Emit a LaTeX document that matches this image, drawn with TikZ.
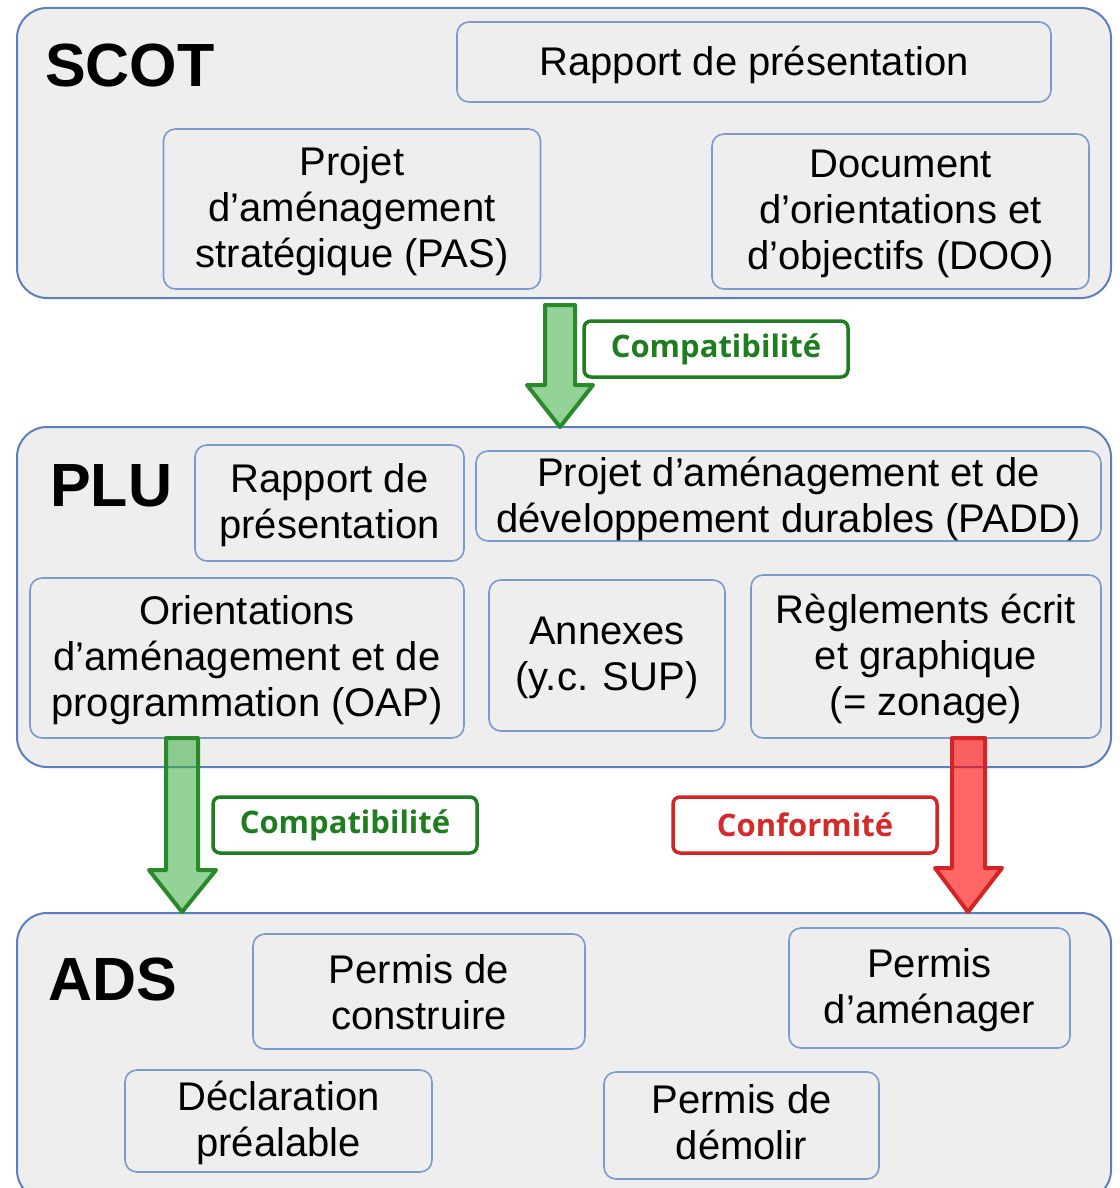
\documentclass[tikz,border=0pt]{standalone}
\usepackage{fontspec}
\setmainfont{Liberation Sans}
\newfontfamily\labfont{Open Sans}
\definecolor{boxfill}{HTML}{EEEEEE}
\definecolor{outerline}{HTML}{5B7FBF}
\definecolor{innerline}{HTML}{7B9BD0}
\definecolor{grline}{HTML}{2A8A2A}
\definecolor{grfill}{HTML}{3CB043}
\definecolor{grtext}{HTML}{1E7D1E}
\definecolor{rdline}{HTML}{D42424}
\definecolor{rdfill}{HTML}{FF0000}
\definecolor{rdtext}{HTML}{D42A2A}
\tikzset{
  outerbox/.style={draw=outerline, line width=2pt, fill=boxfill, rounded corners=30pt},
  inbox/.style={draw=innerline, line width=1.6pt, fill=boxfill, rounded corners=12pt,
    inner sep=0pt},
  intext/.style={inner sep=0pt, align=center, font=\fontsize{40}{46}\selectfont},
  titletext/.style={font=\fontsize{61}{70}\selectfont\bfseries, anchor=west, inner sep=0pt},
  greenarrow/.style={draw=grline, line width=4pt, line join=round, fill=grfill, fill opacity=0.55},
  redarrow/.style={draw=rdline, line width=4pt, line join=round, fill=rdfill, fill opacity=0.6},
  greenlabel/.style={draw=grtext, line width=3.5pt, fill=white, rounded corners=7pt,
    minimum width=264pt, minimum height=56pt, inner sep=0pt, text=grtext,
    font=\labfont\fontsize{31}{36}\selectfont\bfseries},
  redlabel/.style={draw=rdline, line width=3.5pt, fill=white, rounded corners=7pt,
    minimum width=264pt, minimum height=56pt, inner sep=0pt, text=rdtext,
    font=\labfont\fontsize{31}{36}\selectfont\bfseries},
}
\newcommand{\tbox}[5]{% name, cx, cy, w, h
  \node[inbox, minimum width=#4pt, minimum height=#5pt] (#1) at (#2,#3) {};
}
\begin{document}
\begin{tikzpicture}[x=1pt,y=-1pt]
\clip (0,0) rectangle (1119,1188);
\fill[white] (0,0) rectangle (1119,1188);

% outer boxes
\draw[outerbox] (17,8) rectangle (1111,298);
\draw[outerbox] (17,427) rectangle (1111,767);
\draw[outerbox] (17,913) rectangle (1111,1200);

% titles
\node[titletext] (scot) at (45,66) {SCOT};
\node[titletext] (plu) at (50,486) {PLU};
\node[titletext] (ads) at (48,979) {ADS};

% SCOT
\tbox{rp1}{754}{62}{594}{80}
\tbox{pas}{352}{209}{377}{160}
\tbox{doo}{900.5}{211.5}{377}{155}
% PLU
\tbox{rp2}{329.5}{503}{269}{116}
\tbox{padd}{788.5}{496}{625}{90}
\tbox{oap}{247}{658}{434}{160}
\tbox{ann}{607}{655.5}{236}{151}
\tbox{reg}{926}{656.5}{350}{163}
% ADS
\tbox{pc}{419}{991.5}{332}{115}
\tbox{pa}{929.5}{988}{281}{120}
\tbox{dp}{278.5}{1121}{307}{102}
\tbox{pd}{741.5}{1125.5}{275}{107}

\node[intext] (rp1t) at ([yshift=-2.5pt]rp1.center) {Rapport de présentation};
\node[intext] (past) at ([yshift=-2.5pt]pas.center) {Projet\\d’aménagement\\stratégique (PAS)};
\node[intext] (doot) at ([yshift=-2.5pt]doo.center) {Document\\d’orientations et\\d’objectifs (DOO)};
\node[intext] (rp2t) at ([yshift=-2.5pt]rp2.center) {Rapport de\\présentation};
\node[intext] (paddt) at ([yshift=-2.5pt]padd.center) {Projet d’aménagement et de\\développement durables (PADD)};
\node[intext] (oapt) at ([yshift=-2.5pt]oap.center) {Orientations\\d’aménagement et de\\programmation (OAP)};
\node[intext] (annt) at ([yshift=-2.5pt]ann.center) {Annexes\\(y.c. SUP)};
\node[intext] (regt) at ([yshift=-2.5pt]reg.center) {Règlements écrit\\et graphique\\(= zonage)};
\node[intext] (pct) at ([yshift=-1pt]pc.center) {Permis de\\construire};
\node[intext] (pat) at ([yshift=-2pt]pa.center) {Permis\\d’aménager};
\node[intext] (dpt) at ([yshift=-1.5pt]dp.center) {Déclaration\\préalable};
\node[intext] (pdt) at ([yshift=3pt]pd.center) {Permis de\\démolir};

% arrows
\draw[greenarrow] (545,305) -- (575,305) -- (575,385) -- (593,385) -- (560,427) -- (527,385) -- (545,385) -- cycle;
\draw[greenarrow] (166,738) -- (198,738) -- (198,870) -- (216,870) -- (182,912) -- (149,870) -- (166,870) -- cycle;
\draw[redarrow] (952,738) -- (985,738) -- (985,868) -- (1002,868) -- (968,912) -- (935,868) -- (952,868) -- cycle;

% labels
\node[greenlabel] (c1) at (716,349) {\raisebox{-2pt}{Compatibilité}};
\node[greenlabel] (c2) at (345,825) {\raisebox{-2pt}{Compatibilité}};
\node[redlabel] (conf) at (805,825) {Conformité};
\end{tikzpicture}
\end{document}
